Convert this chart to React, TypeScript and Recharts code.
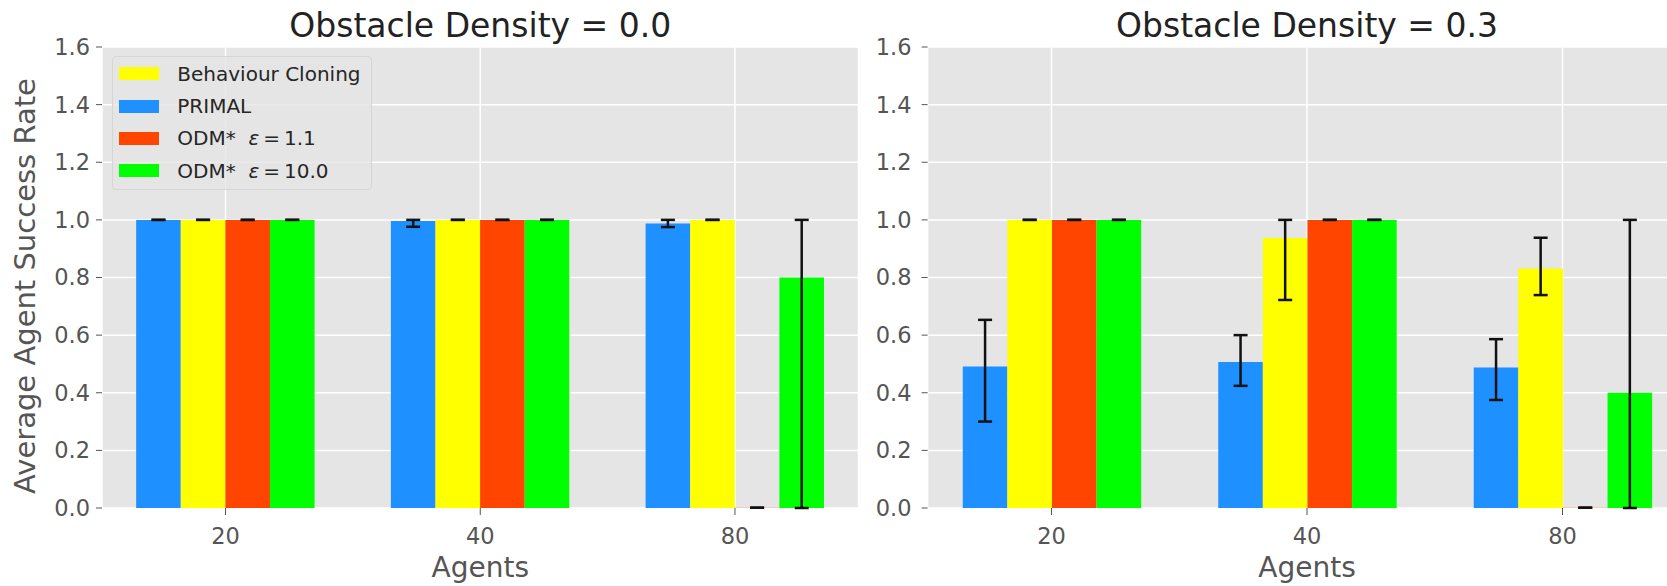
import React from 'react';
import { BarChart, Bar, XAxis, YAxis, CartesianGrid, ErrorBar } from 'recharts';

const AGENTS = ['20', '40', '80'];
const Y_TICKS = [0, 0.2, 0.4, 0.6, 0.8, 1.0, 1.2, 1.4, 1.6];

// Obstacle density 0.0
const PRIMAL_D0 = [1.0, 0.996, 0.9875];
const PRIMAL_D0_ERR = [[0, 0], [0.02, 0.004], [0.0125, 0.0125]];
const BC_D0 = [1.0, 1.0, 1.0];
const BC_D0_ERR = [[0, 0], [0, 0], [0, 0]];
const ODM11_D0 = [1.0, 1.0, 0.001];
const ODM11_D0_ERR = [[0, 0], [0, 0], [0, 0]];
const ODM10_D0 = [1.0, 1.0, 0.8];
const ODM10_D0_ERR = [[0, 0], [0, 0], [0.8, 0.2]];

// Obstacle density 0.3
const PRIMAL_D3 = [0.491, 0.507, 0.488];
const PRIMAL_D3_ERR = [[0.191, 0.162], [0.083, 0.093], [0.113, 0.098]];
const BC_D3 = [1.0, 0.9375, 0.831];
const BC_D3_ERR = [[0, 0], [0.2155, 0.0625], [0.092, 0.107]];
const ODM11_D3 = [1.0, 1.0, 0.001];
const ODM11_D3_ERR = [[0, 0], [0, 0], [0, 0]];
const ODM10_D3 = [1.0, 1.0, 0.4];
const ODM10_D3_ERR = [[0, 0], [0, 0], [0.4, 0.6]];

const SERIES = [
  { key: 'primal', name: 'PRIMAL', color: '#1E90FF' },
  { key: 'bc', name: 'Behaviour Cloning', color: '#FFFF00' },
  { key: 'odm11', name: 'ODM*', eps: '1.1', color: '#FF4500' },
  { key: 'odm10', name: 'ODM*', eps: '10.0', color: '#00FF00' },
];
const LEGEND_ORDER = ['bc', 'primal', 'odm11', 'odm10'];

const buildRows = (primal, primalErr, bc, bcErr, odm11, odm11Err, odm10, odm10Err) =>
  AGENTS.map((agents, i) => ({
    x: i,
    agents,
    primal: primal[i],
    primalErr: primalErr[i],
    bc: bc[i],
    bcErr: bcErr[i],
    odm11: odm11[i],
    odm11Err: odm11Err[i],
    odm10: odm10[i],
    odm10Err: odm10Err[i],
  }));

const dataD0 = buildRows(PRIMAL_D0, PRIMAL_D0_ERR, BC_D0, BC_D0_ERR, ODM11_D0, ODM11_D0_ERR, ODM10_D0, ODM10_D0_ERR);
const dataD3 = buildRows(PRIMAL_D3, PRIMAL_D3_ERR, BC_D3, BC_D3_ERR, ODM11_D3, ODM11_D3_ERR, ODM10_D3, ODM10_D3_ERR);

const TICK_STYLE = { fill: '#555555', fontSize: 22.5 };

interface PanelProps {
  data: any[];
  width: number;
  yAxisWidth: number;
  right: number;
  yTickMargin: number;
}

const Panel: React.FC<PanelProps> = ({ data, width, yAxisWidth, right, yTickMargin }) => (
  <BarChart
    width={width}
    height={586}
    data={data}
    margin={{ top: 47, right, bottom: 0, left: 0 }}
    barGap={0}
    barSize={44.6}
  >
    <CartesianGrid fill="#E5E5E5" fillOpacity={1} stroke="#FFFFFF" strokeWidth={1.5} />
    <XAxis
      type="number"
      dataKey="x"
      domain={[-0.485, 2.485]}
      ticks={[0, 1, 2]}
      interval={0}
      allowDataOverflow
      tickFormatter={(v) => AGENTS[v]}
      axisLine={false}
      tickLine={{ stroke: '#555555' }}
      tickSize={7}
      tickMargin={13}
      height={78}
      tick={TICK_STYLE}
    />
    <YAxis
      type="number"
      domain={[0, 1.6]}
      ticks={Y_TICKS}
      interval={0}
      allowDataOverflow
      tickFormatter={(v) => v.toFixed(1)}
      axisLine={false}
      tickLine={{ stroke: '#555555' }}
      tickSize={6}
      tickMargin={yTickMargin}
      width={yAxisWidth}
      tick={TICK_STYLE}
    />
    {SERIES.map((s) => (
      <Bar key={s.key} dataKey={s.key} fill={s.color} isAnimationActive={false}>
        <ErrorBar dataKey={s.key + 'Err'} direction="y" width={7} strokeWidth={2.5} stroke="#111111" />
      </Bar>
    ))}
  </BarChart>
);

const Legend = () => (
  <div
    style={{
      position: 'absolute',
      left: 111.5,
      top: 56,
      width: 260,
      height: 134,
      boxSizing: 'border-box',
      background: 'rgba(229,229,229,0.8)',
      border: '1px solid #D6D6D6',
      borderRadius: 4,
    }}
  >
    {LEGEND_ORDER.map((k, i) => {
      const s = SERIES.find((d) => d.key === k)!;
      const cy = 73.7 + 32.3 * i - 57;
      return (
        <React.Fragment key={k}>
          <div style={{ position: 'absolute', left: 6.5, top: cy - 6.5, width: 40, height: 13, background: s.color }} />
          <div
            style={{
              position: 'absolute',
              left: 64.8,
              top: cy - 16,
              height: 32,
              lineHeight: '32px',
              fontSize: 20,
              color: '#262626',
              whiteSpace: 'pre',
            }}
          >
            {s.name}
            {s.eps && (
              <>
                {'  '}
                <i>ε</i>
                {'\u2009=\u2009' + s.eps}
              </>
            )}
          </div>
        </React.Fragment>
      );
    })}
  </div>
);

export default function App() {
  return (
    <div
      style={{
        position: 'absolute',
        left: 0,
        top: 0,
        width: 1667,
        height: 586,
        overflow: 'hidden',
        background: '#FFFFFF',
        fontFamily: '"DejaVu Sans", sans-serif',
      }}
    >
      <div style={{ position: 'absolute', left: 0, top: 0 }}>
        <Panel data={dataD0} width={870} yAxisWidth={102} right={11.5} yTickMargin={6} />
      </div>
      <div style={{ position: 'absolute', left: 860, top: 0 }}>
        <Panel data={dataD3} width={830} yAxisWidth={67.6} right={3.6} yTickMargin={10} />
      </div>
      <svg width={1667} height={586} style={{ position: 'absolute', left: 0, top: 0, pointerEvents: 'none' }}>
        <text x={480.25} y={36.5} textAnchor="middle" fontSize={33} fill="#222222">
          Obstacle Density = 0.0
        </text>
        <text x={1307} y={36.5} textAnchor="middle" fontSize={33} fill="#222222">
          Obstacle Density = 0.3
        </text>
        <text x={480.25} y={577.3} textAnchor="middle" fontSize={28} fill="#555555">
          Agents
        </text>
        <text x={1307} y={577.3} textAnchor="middle" fontSize={28} fill="#555555">
          Agents
        </text>
        <text x={35} y={286} textAnchor="middle" fontSize={29} fill="#555555" transform="rotate(-90, 35, 286)">
          Average Agent Success Rate
        </text>
      </svg>
      <Legend />
    </div>
  );
}
